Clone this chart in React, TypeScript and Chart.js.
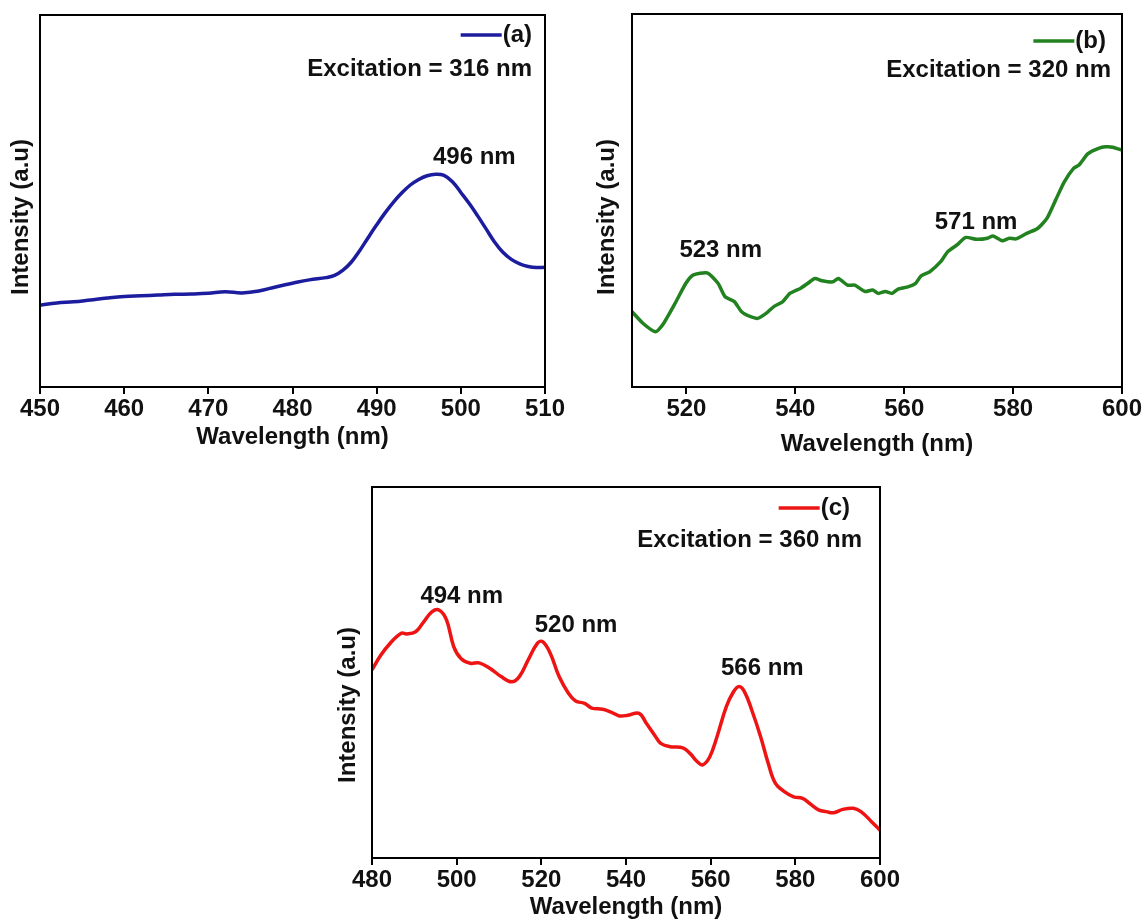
import React, { useEffect, useRef } from "react";
import { Chart, registerables } from "chart.js";

Chart.register(...registerables);

const FONT = '"Liberation Sans", Arial, Helvetica, sans-serif';
const TEXT = "#111111";

// ---------- Panel (a) ----------
const wavelengthA = [450, 452, 454, 456, 458, 460, 462, 464, 466, 468, 470, 472, 474, 476, 478, 480, 482, 484, 485, 486, 487, 488, 489, 490, 491, 492, 493, 494, 495, 496, 497, 498, 499, 500, 501, 502, 503, 504, 505, 506, 507, 508, 509, 510];
const intensityA = [22.0, 22.6, 22.9, 23.4, 23.9, 24.3, 24.5, 24.7, 24.9, 25.0, 25.2, 25.6, 25.3, 25.8, 26.9, 27.9, 28.8, 29.4, 30.0, 31.4, 33.6, 36.7, 40.2, 43.6, 46.8, 49.7, 52.2, 54.3, 55.8, 56.8, 57.2, 56.9, 55.2, 52.3, 49.3, 46.0, 42.5, 39.0, 36.2, 34.3, 33.1, 32.4, 32.1, 32.2];
const ticksA = [450, 460, 470, 480, 490, 500, 510];

// ---------- Panel (b) ----------
const wavelengthB = [510, 512, 514.3, 515.6, 517.9, 519.9, 521.2, 523.8, 525.8, 527.1, 528.8, 530.1, 531.1, 533.1, 534.7, 536, 537.7, 539, 541, 542.3, 543.6, 544.9, 546.9, 547.9, 549.6, 550.9, 552.8, 554.2, 555.2, 556.5, 557.8, 558.8, 560.8, 562.1, 563.1, 564.7, 566.7, 568, 569.7, 571.3, 573.3, 575.3, 576.3, 578, 579.3, 580.5, 582.5, 584.5, 586.2, 587.8, 589.4, 591.1, 592.1, 593.7, 595.7, 597, 598.3, 600];
const intensityB = [20.2, 17.1, 14.8, 16.6, 22.4, 27.8, 30.0, 30.6, 27.8, 24.2, 22.9, 20.2, 19.3, 18.4, 19.8, 21.5, 22.9, 25.1, 26.5, 27.8, 29.1, 28.5, 28.2, 29.1, 27.3, 27.3, 25.6, 26.0, 25.1, 25.6, 25.1, 26.2, 26.9, 27.8, 29.8, 30.9, 33.6, 36.3, 38.1, 40.1, 39.6, 39.9, 40.5, 39.2, 39.9, 39.7, 41.2, 42.5, 45.2, 50.1, 55.0, 58.6, 59.5, 62.5, 64.0, 64.4, 64.3, 63.5];
const ticksB = [520, 540, 560, 580, 600];

// ---------- Panel (c) ----------
const wavelengthC = [480, 482.1, 484.3, 486.9, 488.2, 490.3, 492, 494.2, 495.9, 497.6, 499.3, 501, 503.2, 505.3, 507.9, 510.5, 513, 514.8, 516.9, 519.1, 520.3, 522.1, 524.2, 526.4, 528.1, 530.2, 531.9, 534.5, 536.7, 538.4, 540.5, 543.1, 544.8, 547, 548.2, 550.4, 553.4, 555.1, 556.8, 558.1, 559.8, 561.5, 563.7, 565.4, 566.7, 568, 569.7, 571.8, 573.6, 575.3, 577.4, 579.6, 581.7, 583.4, 585.6, 587.3, 589, 591.2, 593.7, 595.5, 598, 600];
const intensityC = [50.7, 54.7, 57.9, 60.6, 60.4, 61.0, 63.3, 66.4, 66.8, 64.2, 57.0, 53.8, 52.5, 52.6, 51.1, 48.9, 47.5, 48.9, 53.4, 57.9, 58.3, 55.2, 48.9, 44.4, 42.3, 41.7, 40.4, 40.1, 39.2, 38.3, 38.5, 39.0, 36.3, 32.7, 30.9, 30.0, 29.7, 28.2, 26.0, 25.1, 27.3, 32.7, 40.8, 44.8, 46.2, 44.8, 39.9, 32.7, 25.5, 20.1, 17.9, 16.5, 16.1, 14.7, 12.9, 12.5, 12.2, 13.1, 13.4, 12.5, 9.8, 7.5];
const ticksC = [480, 500, 520, 540, 560, 580, 600];

// Peak labels (data coordinates)
const peaksA = [{ text: "496 nm", x: 501.6, y: 61.6 }];
const peaksB = [
  { text: "523 nm", x: 526.3, y: 36.7 },
  { text: "571 nm", x: 573.2, y: 44.2 },
];
const peaksC = [
  { text: "494 nm", x: 501.2, y: 70.4 },
  { text: "520 nm", x: 528.2, y: 62.8 },
  { text: "566 nm", x: 572.2, y: 51.2 },
];

const X_TITLE = "Wavelength (nm)";
const Y_TITLE = "Intensity (a.u)";

type Peak = { text: string; x: number; y: number };
type PanelProps = {
  left: number;
  top: number;
  width: number;
  height: number;
  pad: { left: number; top: number; right: number };
  axisH: number;
  titlePad: number;
  xs: number[];
  ys: number[];
  ticks: number[];
  xMin: number;
  xMax: number;
  color: string;
  label: string;
  excitation: string;
  peaks: Peak[];
  tension: number;
  yTitle: { dx: number; dy: number };
  legend: { dx: number; dy: number };
  exc: { dx: number; dy: number };
};

function Panel(p: PanelProps) {
  const ref = useRef<HTMLCanvasElement | null>(null);
  useEffect(() => {
    if (!ref.current) return;
    const overlay = {
      id: "overlay",
      afterDraw(chart: any) {
        const ctx = chart.ctx as CanvasRenderingContext2D;
        const a = chart.chartArea;
        const xs = chart.scales.x;
        const ysc = chart.scales.y;
        ctx.save();
        // frame
        ctx.strokeStyle = "#000";
        ctx.lineWidth = 2;
        ctx.strokeRect(a.left, a.top, a.right - a.left, a.bottom - a.top);
        ctx.fillStyle = TEXT;
        ctx.font = `bold 24px ${FONT}`;
        // y title
        ctx.save();
        ctx.translate(a.left - p.yTitle.dx, a.top + p.yTitle.dy);
        ctx.rotate(-Math.PI / 2);
        ctx.textAlign = "center";
        ctx.textBaseline = "middle";
        ctx.fillText(Y_TITLE, 0, 0);
        ctx.restore();
        // legend
        const ds = chart.data.datasets[0];
        ctx.textAlign = "right";
        ctx.textBaseline = "middle";
        const lx = a.right - p.legend.dx;
        const ly = a.top + p.legend.dy;
        ctx.fillText(ds.label, lx, ly);
        const tw = ctx.measureText(ds.label).width;
        ctx.strokeStyle = ds.borderColor;
        ctx.lineWidth = 3.5;
        ctx.beginPath();
        ctx.moveTo(lx - tw - 42, ly);
        ctx.lineTo(lx - tw - 1, ly);
        ctx.stroke();
        // excitation
        ctx.fillText(p.excitation, a.right - p.exc.dx, a.top + p.exc.dy);
        // peaks
        ctx.textAlign = "center";
        for (const pk of p.peaks) {
          ctx.fillText(pk.text, xs.getPixelForValue(pk.x), ysc.getPixelForValue(pk.y));
        }
        ctx.restore();
      },
    };
    const chart = new Chart(ref.current, {
      type: "line",
      data: {
        datasets: [
          {
            label: p.label,
            data: p.xs.map((x, i) => ({ x, y: p.ys[i] })),
            borderColor: p.color,
            backgroundColor: p.color,
            borderWidth: 3.5,
            pointRadius: 0,
            tension: p.tension,
            fill: false,
          },
        ],
      },
      options: {
        responsive: false,
        animation: false,
        events: [],
        layout: { padding: { left: p.pad.left, top: p.pad.top, right: p.pad.right, bottom: 0 } },
        plugins: { legend: { display: false }, tooltip: { enabled: false } },
        scales: {
          x: {
            type: "linear",
            min: p.xMin,
            max: p.xMax,
            afterBuildTicks: (s: any) => {
              s.ticks = p.ticks.map((v) => ({ value: v }));
            },
            afterFit: (s: any) => {
              s.height = p.axisH;
            },
            ticks: {
              font: { family: FONT, size: 24, weight: "bold" },
              color: TEXT,
              padding: 1,
              maxRotation: 0,
              autoSkip: false,
            },
            grid: {
              display: true,
              drawOnChartArea: false,
              drawTicks: true,
              tickLength: 7,
              lineWidth: 2,
              color: "#000",
            },
            border: { display: true, width: 2, color: "#000" },
            title: {
              display: true,
              text: X_TITLE,
              font: { family: FONT, size: 24, weight: "bold" },
              color: TEXT,
              padding: { top: 0, bottom: p.titlePad },
            },
          },
          y: { display: false, min: 0, max: 100 },
        },
      },
      plugins: [overlay],
    } as any);
    return () => chart.destroy();
  }, []);
  return (
    <div style={{ position: "absolute", left: p.left, top: p.top, width: p.width, height: p.height }}>
      <canvas ref={ref} width={p.width} height={p.height} style={{ display: "block" }} />
    </div>
  );
}

export default function App() {
  return (
    <div
      style={{
        position: "absolute",
        left: 0,
        top: 0,
        width: 1143,
        height: 921,
        overflow: "hidden",
        background: "#fff",
      }}
    >
      <Panel
        left={0}
        top={0}
        width={570}
        height={465}
        pad={{ left: 40, top: 15, right: 25 }}
        axisH={78}
        titlePad={13}
        xs={wavelengthA}
        ys={intensityA}
        ticks={ticksA}
        xMin={450}
        xMax={510}
        color="#1c1c9e"
        label="(a)"
        excitation="Excitation = 316 nm"
        peaks={peaksA}
        tension={0.4}
        yTitle={{ dx: 19, dy: 202 }}
        legend={{ dx: 13, dy: 20 }}
        exc={{ dx: 13, dy: 54 }}
      />
      <Panel
        left={588}
        top={0}
        width={558}
        height={465}
        pad={{ left: 44, top: 14, right: 24 }}
        axisH={78}
        titlePad={6}
        xs={wavelengthB}
        ys={intensityB}
        ticks={ticksB}
        xMin={510}
        xMax={600}
        color="#21821f"
        label="(b)"
        excitation="Excitation = 320 nm"
        peaks={peaksB}
        tension={0.2}
        yTitle={{ dx: 25, dy: 203 }}
        legend={{ dx: 16, dy: 27 }}
        exc={{ dx: 11, dy: 56 }}
      />
      <Panel
        left={320}
        top={470}
        width={590}
        height={460}
        pad={{ left: 52, top: 17, right: 30 }}
        axisH={72}
        titlePad={8}
        xs={wavelengthC}
        ys={intensityC}
        ticks={ticksC}
        xMin={480}
        xMax={600}
        color="#ee1414"
        label="(c)"
        excitation="Excitation = 360 nm"
        peaks={peaksC}
        tension={0.4}
        yTitle={{ dx: 24, dy: 218 }}
        legend={{ dx: 30, dy: 21 }}
        exc={{ dx: 18, dy: 53 }}
      />
    </div>
  );
}
